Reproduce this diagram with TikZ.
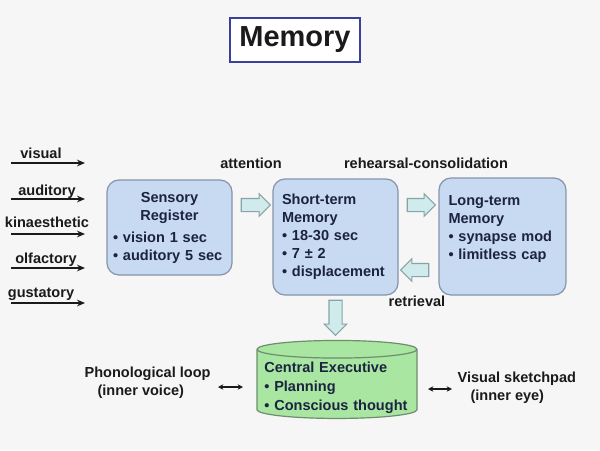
\documentclass[tikz,border=0pt]{standalone}
\usepackage{fontspec}
\setmainfont{Liberation Sans}
\usetikzlibrary{arrows.meta,positioning,shapes.geometric,shapes.arrows}
\definecolor{boxblue}{HTML}{C7DAF2}
\definecolor{boxedge}{HTML}{8594AA}
\definecolor{arrowcyan}{HTML}{D0EBEB}
\definecolor{arrowedge}{HTML}{8BA3A8}
\definecolor{execgreen}{HTML}{A8E6A2}
\definecolor{execedge}{HTML}{6E8E6E}
\definecolor{navy}{HTML}{1C2340}
\definecolor{titleblue}{HTML}{3B3F9E}
\definecolor{bgpaper}{HTML}{F6F6F6}
\definecolor{ink}{HTML}{1A1A1A}
\tikzset{
  titlebox/.style={rectangle, draw=titleblue, line width=1.5pt, fill=white,
    minimum width=97.5pt, minimum height=33pt, text=ink,
    font=\fontsize{21.75}{26}\selectfont\bfseries},
  storebox/.style={rectangle, rounded corners=9pt, draw=boxedge, line width=0.9pt,
    fill=boxblue, text=navy, align=left, text width=#1,
    font=\fontsize{10.9}{13.5}\selectfont\bfseries},
  storebox/.default=80pt,
  flowarrow/.style={single arrow, draw=arrowedge, fill=arrowcyan, line width=0.8pt,
    minimum height=#1, single arrow head extend=3.4pt,
    inner xsep=0pt, inner ysep=4.5pt},
  flowarrow/.default=21.75pt,
  execdrum/.style={cylinder, shape border rotate=90, aspect=0.11, draw=execedge,
    fill=execgreen, line width=0.9pt, minimum width=120pt, minimum height=58.5pt,
    text width=109pt, text height=5pt, text depth=26pt, align=left, text=navy,
    inner ysep=0pt, inner xsep=5.5pt,
    font=\fontsize{10.9}{14.25}\selectfont\bfseries},
  lbl/.style={font=\fontsize{10.9}{13.5}\selectfont\bfseries, text=ink, inner sep=1pt},
  sensearrow/.style={-{Stealth[length=6pt,width=5pt]}, line width=1.5pt, draw=ink},
  linkarrow/.style={{Stealth[length=4pt,width=4pt]}-{Stealth[length=4pt,width=4pt]},
    line width=1.2pt, draw=ink},
}

\begin{document}
\begin{tikzpicture}[x=0.75pt, y=-0.75pt]
  \fill[bgpaper] (0,0) rectangle (600,450);
  \useasboundingbox (0,0) rectangle (600,450);

  \node[titlebox] (title) at (295,40) {Memory};

  % senses feeding the register
  \foreach \y/\word/\xl/\yb in {163/visual/41/158, 199/auditory/47/195,
      234/kinaesthetic/47/227, 268/olfactory/46/263, 303/gustatory/41/297} {
    \coordinate (src-\word) at (11,\y);
    \coordinate (dst-\word) at (85,\y);
    \draw[sensearrow] (src-\word) -- (dst-\word);
    \node[lbl, anchor=base] (lbl-\word) at (\xl,\yb) {\word};
  }

  \node[storebox=84.75pt, inner sep=4.5pt, minimum height=71.25pt] (sensreg) at (169.5,227.5)
    {\centering Sensory\\Register\par\vspace{3pt}\raggedright
     • vision 1 sec\\• auditory 5 sec};
  \node[storebox=80.25pt, inner sep=6.75pt, minimum height=87pt] (stm) at (335.5,237)
    {Short-term\\Memory\\• 18-30 sec\\• 7 ± 2\\• displacement};
  \node[storebox=81pt, inner sep=7.1pt, minimum height=87.75pt] (ltm) at (502.5,236.5)
    {Long-term\\Memory\\• synapse mod\\• limitless cap\\\mbox{}};

  \node[flowarrow] (a-att) at (252.5,205) {};
  \node[flowarrow=21pt] (a-reh) at (418,205) {};
  \node[flowarrow=21pt, shape border rotate=180] (a-ret) at (418,270) {};
  \node[flowarrow=26.25pt, shape border rotate=270, inner xsep=4.5pt, inner ysep=0pt]
    (a-exec) at (335.5,314.5) {};

  \node[lbl] (attn) at (251,163) {attention};
  \node[lbl] (rehearse) at (426,163) {rehearsal-consolidation};
  \node[lbl] (retr) at (417,301) {retrieval};

  \node[execdrum] (cexec) at (337,386)
    {Central Executive\\• Planning\\• Conscious thought};

  \node[lbl, align=left, anchor=west] (phon) at (83,383)
    {Phonological loop\\\hspace*{9.75pt}(inner voice)};
  \node[lbl, align=left, anchor=west] (sketch) at (456,388)
    {Visual sketchpad\\\hspace*{9.75pt}(inner eye)};

  \coordinate (phon-a) at (218,387);
  \coordinate (phon-b) at (243,387);
  \coordinate (sketch-a) at (428,389);
  \coordinate (sketch-b) at (452,389);
  \draw[linkarrow] (phon-a) -- (phon-b);
  \draw[linkarrow] (sketch-a) -- (sketch-b);
\end{tikzpicture}
\end{document}
